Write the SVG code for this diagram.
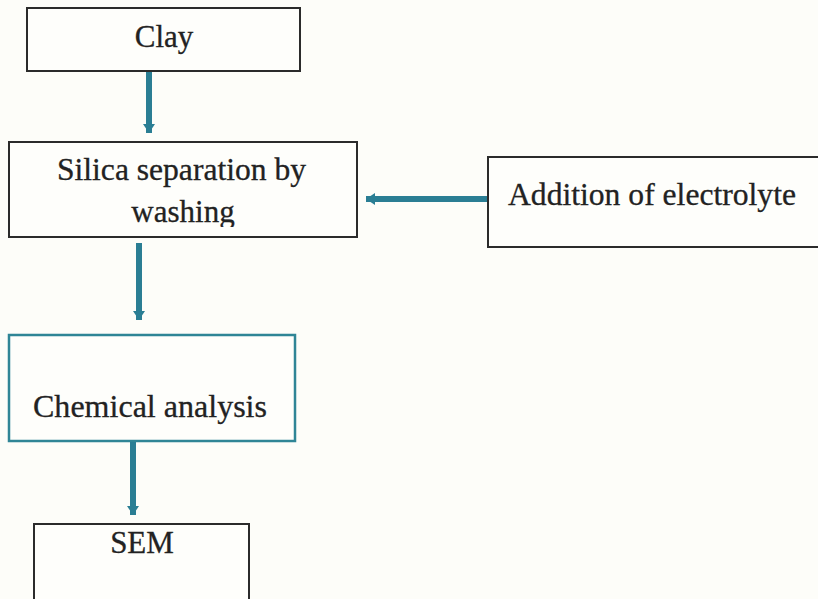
<svg xmlns="http://www.w3.org/2000/svg" width="818" height="599" viewBox="0 0 818 599">
<defs>
<style>
.box{fill:#fefefb;stroke:#2b2b2b;stroke-width:2}
.tbox{fill:#fefefb;stroke:#2f8596;stroke-width:2.5}
.t{font-family:"Liberation Serif","Times New Roman",serif;font-size:31px;fill:#222;stroke:#222;stroke-width:0.3}
.c{stroke:#2a7e94;stroke-width:6;fill:none}
</style>
<marker id="ah" markerUnits="userSpaceOnUse" markerWidth="14" markerHeight="14" viewBox="0 0 14 14" refX="9" refY="7" orient="auto">
<path d="M0,1 L9,7 L0,13 Z" fill="#2a7e94"/>
</marker>
<clipPath id="cw"><rect x="0" y="0" width="818" height="227"/></clipPath>
</defs>
<rect width="818" height="599" fill="#fdfdf9"/>
<g id="clay">
<rect class="box" x="27" y="8" width="273" height="63"/>
<text class="t" x="164" y="47" text-anchor="middle">Clay</text>
</g>
<g id="silica">
<rect class="box" x="9" y="142" width="348" height="95"/>
<text class="t" x="57" y="180" textLength="249" lengthAdjust="spacingAndGlyphs">Silica separation by</text>
<text class="t" x="183" y="222" text-anchor="middle" clip-path="url(#cw)">washing</text>
</g>
<g id="electrolyte">
<rect class="box" x="488" y="157" width="345" height="90"/>
<text class="t" x="508" y="205" textLength="288" lengthAdjust="spacingAndGlyphs">Addition of electrolyte</text>
</g>
<g id="chemical">
<rect class="tbox" x="9" y="335" width="286" height="106"/>
<text class="t" x="33" y="417" textLength="234" lengthAdjust="spacingAndGlyphs">Chemical analysis</text>
</g>
<g id="sem">
<rect class="box" x="34" y="524" width="215" height="90"/>
<text class="t" x="142" y="553" text-anchor="middle">SEM</text>
</g>
<g id="connectors">
<line class="c" x1="149" y1="72" x2="149" y2="133" marker-end="url(#ah)"/>
<line class="c" x1="487" y1="199" x2="366" y2="199" stroke-width="5" marker-end="url(#ah)"/>
<line class="c" x1="139" y1="243" x2="139" y2="320" marker-end="url(#ah)"/>
<line class="c" x1="133" y1="442" x2="133" y2="515" marker-end="url(#ah)"/>
</g>
</svg>
